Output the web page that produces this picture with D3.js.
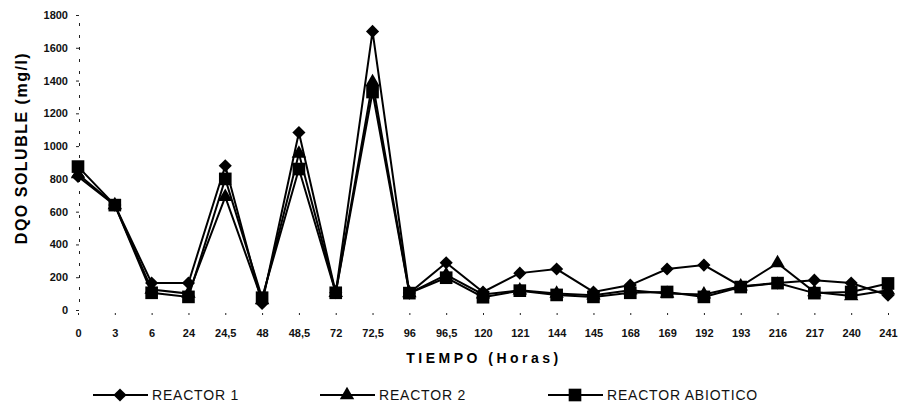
<!DOCTYPE html>
<html>
<head>
<meta charset="utf-8">
<script src="https://cdn.jsdelivr.net/npm/d3@7"></script>
<style>
  body { margin: 0; background: #fff; }
  svg { display: block; font-family: "Liberation Sans", Arial, sans-serif; }
</style>
</head>
<body>
<svg id="chart" width="906" height="410"></svg>
<script>
// Sampling times (hours) and soluble COD (mg/l) for each reactor
const tiempos = ["0", "3", "6", "24", "24,5", "48", "48,5", "72", "72,5", "96", "96,5",
  "120", "121", "144", "145", "168", "169", "192", "193", "216", "217", "240", "241"];
const reactor1 = [815, 640, 165, 165, 880, 40, 1083, 105, 1700, 103, 288,
  110, 225, 250, 110, 152, 250, 274, 145, 165, 182, 165, 90];
const reactor2 = [830, 640, 125, 100, 690, 60, 955, 105, 1390, 103, 215,
  95, 120, 100, 90, 120, 100, 95, 145, 286, 110, 85, 120];
const abiotico = [875, 640, 105, 80, 800, 75, 860, 105, 1330, 103, 197,
  78, 118, 92, 80, 105, 110, 80, 140, 164, 103, 110, 162];
const yTicks = [0, 200, 400, 600, 800, 1000, 1200, 1400, 1600, 1800];

const series = [
  { name: "REACTOR 1", values: reactor1, shape: "diamond" },
  { name: "REACTOR 2", values: reactor2, shape: "triangle" },
  { name: "REACTOR ABIOTICO", values: abiotico, shape: "square" }
];

const svg = d3.select("#chart");
const x = d3.scalePoint().domain(tiempos).range([78, 888]);
const y = d3.scaleLinear().domain([0, 1800]).range([310, 15]);

const symbolFor = {
  diamond: d3.symbol().type(d3.symbolDiamond2).size(110),
  triangle: d3.symbol().type(d3.symbolTriangle).size(90),
  square: d3.symbol().type(d3.symbolSquare).size(160)
};

// Y axis: dashed spine with small ticks
const yAxis = svg.append("g").attr("transform", "translate(79,0)")
  .call(d3.axisLeft(y).tickValues(yTicks).tickFormat(d3.format("d")).tickSize(3).tickPadding(8));
yAxis.select(".domain").attr("stroke", "#222").attr("stroke-dasharray", "3,9").attr("stroke-width", 1);
yAxis.selectAll(".tick line").attr("stroke", "#222");
yAxis.selectAll(".tick text")
  .attr("font-size", 11).attr("font-weight", "bold").attr("fill", "#111")
  .attr("font-family", "'Liberation Sans', Arial, sans-serif");

// X axis: tick marks only, no spine
const xAxis = svg.append("g").attr("transform", "translate(0,313)")
  .call(d3.axisBottom(x).tickSize(2).tickPadding(14));
xAxis.select(".domain").remove();
xAxis.selectAll(".tick line").attr("stroke", "#222");
xAxis.selectAll(".tick text")
  .attr("font-size", 11).attr("font-weight", "bold").attr("fill", "#111")
  .attr("font-family", "'Liberation Sans', Arial, sans-serif");

// Axis titles
svg.append("text")
  .attr("x", 484).attr("y", 363).attr("text-anchor", "middle")
  .attr("font-size", 14).attr("font-weight", "bold").attr("letter-spacing", 3.5)
  .text("TIEMPO (Horas)");
svg.append("text")
  .attr("transform", "translate(27,148) rotate(-90)")
  .attr("text-anchor", "middle")
  .attr("font-size", 16).attr("font-weight", "bold").attr("letter-spacing", 1.5)
  .text("DQO SOLUBLE (mg/l)");

// Lines and markers
const line = d3.line().x((d, i) => x(tiempos[i])).y(d => y(d));
const plot = svg.append("g");
series.forEach(s => {
  plot.append("path").datum(s.values)
    .attr("d", line).attr("fill", "none")
    .attr("stroke", "#000").attr("stroke-width", 2);
});
series.forEach(s => {
  plot.selectAll(null).data(s.values).join("path")
    .attr("transform", (d, i) => `translate(${x(tiempos[i])},${y(d)})`)
    .attr("d", symbolFor[s.shape]())
    .attr("fill", "#000");
});

// Legend
const legendX = [93, 320, 548];
series.forEach((s, i) => {
  const g = svg.append("g").attr("transform", `translate(${legendX[i]},395)`);
  g.append("line").attr("x1", 0).attr("x2", 55).attr("y1", 0).attr("y2", 0)
    .attr("stroke", "#000").attr("stroke-width", 2);
  g.append("path").attr("transform", "translate(27,0)")
    .attr("d", symbolFor[s.shape]()).attr("fill", "#000");
  g.append("text").attr("x", 59).attr("y", 5)
    .attr("font-size", 14).attr("letter-spacing", 0.8).attr("fill", "#111").text(s.name);
});
</script>
</body>
</html>
